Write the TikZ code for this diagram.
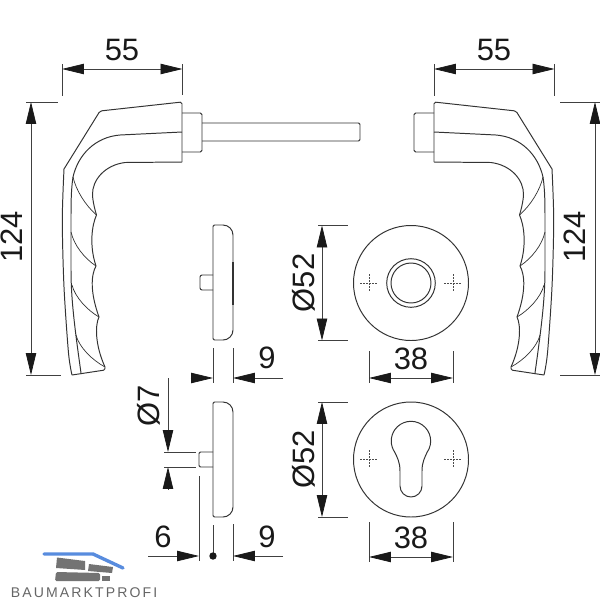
\documentclass[tikz,border=0pt]{standalone}
\usepackage{fontspec}
\setmainfont{Liberation Sans}
\usetikzlibrary{arrows.meta}
\definecolor{logoblue}{RGB}{88,140,222}
\tikzset{
  part/.style={line width=0.7pt, draw=black!80, line join=round},
  thin part/.style={line width=0.5pt, draw=black!80},
  dimline/.style={line width=0.55pt, draw=black!75},
  dimarrow/.style={dimline, -{Triangle[length=15.6pt,width=7.4pt,color=black!90]}},
  doublearrow/.style={dimline, {Triangle[length=15.6pt,width=7.4pt,color=black!90]}-{Triangle[length=15.6pt,width=7.4pt,color=black!90]}},
  crossline/.style={line width=0.4pt, draw=black!70, dash pattern=on 1.3pt off 0.9pt},
  dimtext/.style={anchor=base, inner sep=0pt, font=\fontsize{22}{26}\selectfont, text=black!90},
}
\newcommand{\handleshape}{
  \draw[part, rounded corners=1.2pt] (182,162) -- (182,102) -- (100,111) -- (64,169);
  \draw[part] plot [mark=none, smooth, tension=0.5] coordinates {(64,169) (62.3,220) (64,287) (68.5,353) (72,375)};
  \draw[part, rounded corners=1pt] (72,375) -- (105,370) -- (105,367);
  \draw[part] (182,162) -- (125,162.5) .. controls (105,165) and (92,180) .. (92.5,195) .. controls (93,203) and (95,210) .. (96.5,215);
  \draw[part] (96.5,215) .. controls (92,225) and (89,245) .. (96,266) .. controls (91,275) and (90,292) .. (99,317) .. controls (95,325) and (95,345) .. (105,367);
  \draw[part] (182,132) -- (120,135) .. controls (95,137) and (78,155) .. (73,177) .. controls (71,190) and (71,205) .. (71,220) -- (71,270) .. controls (71,300) and (75,330) .. (81,373);
  \draw[thin part] (73,177) .. controls (76,190) and (85,205) .. (96.5,215);
  \draw[thin part] (71,232) .. controls (74,245) and (84,258) .. (96,266);
  \draw[thin part] (72,285) .. controls (75,297) and (87,310) .. (99,317);
  \draw[thin part] (76,335) .. controls (79,347) and (92,360) .. (105,367);
  \draw[part, rounded corners=1.2pt] (182,113) -- (202,113) -- (202,152) -- (182,152);
}
\newcommand{\sideplate}[1]{
  \draw[part, rounded corners=1pt] (223,#1) -- (213,#1) -- (213,#1+115) -- (223,#1+115);
  \draw[part] (223,#1) arc (-90:0:10) -- (233,#1+105) arc (0:90:10);
}
\begin{document}
\begin{tikzpicture}[x=0.025cm, y=-0.025cm]
  \useasboundingbox (0,0) rectangle (600,600);

  \handleshape
  \begin{scope}[shift={(616,0)}, xscale=-1]
    \handleshape
  \end{scope}
  \draw[part, rounded corners=1pt] (202,123) -- (360,123) -- (360,141) -- (202,141);

  \draw[dimline] (62,64) -- (62,96);
  \draw[dimline] (182.5,64) -- (182.5,95);
  \draw[doublearrow] (62,69) -- (182.5,69);
  \node[dimtext] (lefttop) at (122,60) {55};
  \draw[dimline] (434,64) -- (434,96);
  \draw[dimline] (554.5,64) -- (554.5,96);
  \draw[doublearrow] (434,69) -- (554.5,69);
  \node[dimtext] (righttop) at (494,60) {55};

  \draw[dimline] (26,102) -- (58,102);
  \draw[dimline] (26,375) -- (61,375);
  \draw[doublearrow] (31,102) -- (31,375);
  \node[dimtext, rotate=90] (leftheight) at (23,237) {124};
  \draw[dimline] (560,102) -- (600,102);
  \draw[dimline] (560,375) -- (600,375);
  \draw[doublearrow] (595,102) -- (595,375);
  \node[dimtext, rotate=90] (rightheight) at (585,237) {124};

  \foreach \cy/\crossy/\dimy/\texty/\exttop in {283/283/378/369/351, 459.5/459/557/548/522} {
    \draw[part] (411,\cy) circle (57.5);
    \foreach \mx in {369,453} {
      \draw[crossline] ({\mx-9},\crossy) -- ({\mx+9},\crossy);
      \draw[crossline] (\mx,{\crossy-9}) -- (\mx,{\crossy+9});
    }
    \draw[dimline] (318,{\cy-57.5}) -- (348,{\cy-57.5});
    \draw[dimline] (318,{\cy+57.5}) -- (348,{\cy+57.5});
    \draw[doublearrow] (322,{\cy-57.5}) -- (322,{\cy+57.5});
    \node[dimtext, rotate=90] at (314,\cy) {Ø52};
    \draw[dimline] (369,\exttop) -- (369,{\dimy+5});
    \draw[dimline] (453,\exttop) -- (453,{\dimy+5});
    \draw[doublearrow] (369,\dimy) -- (453,\dimy);
    \node[dimtext] at (411,\texty) {38};
  }
  \draw[part] (411,283) circle (24.3);
  \draw[part] (411,283) circle (20);
  \draw[part] (400,486) arc (180:0:11) -- (422,471) .. controls (422,462) and (425,457) .. (427.1,452.3)
    arc (35:-215:19.7) .. controls (397,457) and (400,462) .. (400,471) -- cycle;

  \sideplate{225}
  \draw[line width=1.2pt, draw=black!80] (233.3,262) -- (233.3,305);
  \draw[part, rounded corners=1.5pt] (213,275) -- (200,275) -- (200,290) -- (213,290);
  \draw[dimline] (213,348) -- (213,383);
  \draw[dimline] (233,348) -- (233,383);
  \draw[dimarrow] (190.5,378) -- (213,378);
  \draw[dimarrow] (283,378) -- (233,378);
  \node[dimtext] (ninetop) at (267,368) {9};

  \sideplate{402}
  \draw[part, rounded corners=1pt] (213,452) -- (199,452) -- (199,467) -- (213,467);
  \draw[dimline] (164,452) -- (196,452);
  \draw[dimline] (164,467) -- (196,467);
  \draw[dimarrow] (168,378) -- (168,452);
  \draw[dimarrow] (168,489) -- (168,467);
  \node[dimtext, rotate=90] (stud) at (159,406) {Ø7};
  \draw[dimline] (199,476) -- (199,561);
  \draw[dimline] (213,525) -- (213,556);
  \draw[dimline] (233,524) -- (233,561);
  \draw[dimarrow] (148,556) -- (199,556);
  \draw[dimarrow] (283,556) -- (233,556);
  \fill[black!90] (213,556) circle (3.7);
  \node[dimtext] (sixbottom) at (163,547) {6};
  \node[dimtext] (ninebottom) at (267,547) {9};

  \draw[line width=2.4pt, draw=logoblue, line cap=round] (44,554) -- (93,554) -- (123,568);
  \fill[black!55] (57,557.5) -- (85,561) -- (85,570) -- (56,568) -- cycle;
  \fill[black!55] (89,564) -- (113,567) -- (112,573) -- (88,571) -- cycle;
  \fill[black!55, rounded corners=1pt] (56,572) -- (100,573) -- (100,581) -- (55,581) -- cycle;
  \fill[black!55] (102,576) -- (110,576) -- (110,581) -- (102,581) -- cycle;
  \node[anchor=base west, inner sep=0pt, text=black!60, font=\fontsize{10}{12}\selectfont\addfontfeatures{LetterSpace=15}] (brand) at (10.5,597.5) {BAUMARKTPROFI};
\end{tikzpicture}
\end{document}
